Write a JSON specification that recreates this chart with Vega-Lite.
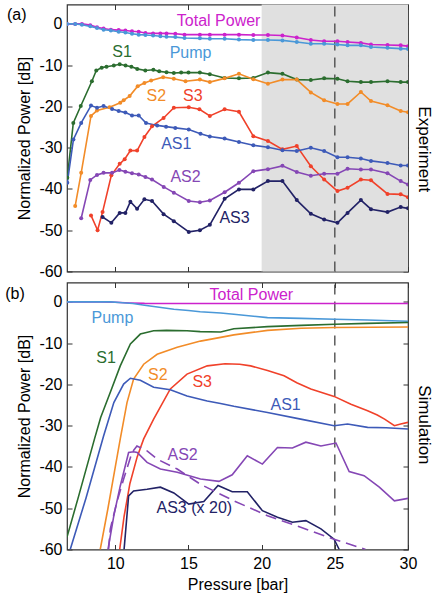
{
  "$schema": "https://vega.github.io/schema/vega-lite/v6.json",
  "padding": {"left": 4, "top": 2.5, "right": 0, "bottom": 0},
  "spacing": 0,
  "config": {
    "font": "Liberation Sans",
    "view": {"stroke": "#333333", "strokeWidth": 1.2},
    "axis": {
      "labelFont": "Liberation Sans",
      "titleFont": "Liberation Sans",
      "labelFontSize": 16,
      "titleFontSize": 16,
      "titleFontWeight": "normal",
      "labelColor": "#000000",
      "titleColor": "#000000",
      "tickSize": -5,
      "tickColor": "#333333",
      "domain": false,
      "grid": false,
      "labelPadding": 10,
      "labelFlush": false
    }
  },
  "datasets": {
    "expdata": [
      {"series": "Total Power", "x": 6.7, "y": 0}, {"series": "Total Power", "x": 7.26, "y": 0}, {"series": "Total Power", "x": 7.72, "y": 0}, {"series": "Total Power", "x": 8.29, "y": -0.3}, {"series": "Total Power", "x": 8.75, "y": -0.8}, {"series": "Total Power", "x": 9.2, "y": -1.1}, {"series": "Total Power", "x": 9.7, "y": -1.4}, {"series": "Total Power", "x": 10.23, "y": -1.5}, {"series": "Total Power", "x": 10.69, "y": -1.6}, {"series": "Total Power", "x": 11.14, "y": -1.8}, {"series": "Total Power", "x": 11.6, "y": -1.9}, {"series": "Total Power", "x": 12.06, "y": -2.2}, {"series": "Total Power", "x": 12.58, "y": -2.3}, {"series": "Total Power", "x": 13.08, "y": -2.3}, {"series": "Total Power", "x": 13.5, "y": -2.3}, {"series": "Total Power", "x": 14.1, "y": -2.4}, {"series": "Total Power", "x": 14.73, "y": -2.6}, {"series": "Total Power", "x": 15.78, "y": -2.6}, {"series": "Total Power", "x": 16.46, "y": -2.6}, {"series": "Total Power", "x": 17.47, "y": -2.6}, {"series": "Total Power", "x": 18.45, "y": -2.6}, {"series": "Total Power", "x": 19.43, "y": -2.7}, {"series": "Total Power", "x": 20.43, "y": -2.7}, {"series": "Total Power", "x": 21.42, "y": -2.8}, {"series": "Total Power", "x": 22.4, "y": -3.3}, {"series": "Total Power", "x": 23.36, "y": -3.9}, {"series": "Total Power", "x": 24.27, "y": -4.2}, {"series": "Total Power", "x": 25.18, "y": -4.2}, {"series": "Total Power", "x": 25.87, "y": -4.4}, {"series": "Total Power", "x": 26.78, "y": -4.6}, {"series": "Total Power", "x": 27.47, "y": -5.0}, {"series": "Total Power", "x": 28.6, "y": -5.1}, {"series": "Total Power", "x": 29.5, "y": -5.2}, {"series": "Total Power", "x": 30, "y": -5.4},
      {"series": "Pump", "x": 6.7, "y": 0}, {"series": "Pump", "x": 7.26, "y": 0}, {"series": "Pump", "x": 7.72, "y": -0.2}, {"series": "Pump", "x": 8.29, "y": -0.6}, {"series": "Pump", "x": 8.75, "y": -1.0}, {"series": "Pump", "x": 9.2, "y": -1.4}, {"series": "Pump", "x": 9.7, "y": -1.6}, {"series": "Pump", "x": 10.23, "y": -1.9}, {"series": "Pump", "x": 10.69, "y": -2.1}, {"series": "Pump", "x": 11.14, "y": -2.4}, {"series": "Pump", "x": 11.6, "y": -2.6}, {"series": "Pump", "x": 12.06, "y": -2.7}, {"series": "Pump", "x": 12.58, "y": -2.8}, {"series": "Pump", "x": 13.08, "y": -3.0}, {"series": "Pump", "x": 13.5, "y": -3.1}, {"series": "Pump", "x": 14.1, "y": -3.2}, {"series": "Pump", "x": 14.73, "y": -3.4}, {"series": "Pump", "x": 15.78, "y": -3.5}, {"series": "Pump", "x": 16.46, "y": -3.6}, {"series": "Pump", "x": 17.47, "y": -3.6}, {"series": "Pump", "x": 18.45, "y": -3.8}, {"series": "Pump", "x": 19.43, "y": -3.9}, {"series": "Pump", "x": 20.43, "y": -3.9}, {"series": "Pump", "x": 21.42, "y": -4.0}, {"series": "Pump", "x": 22.4, "y": -4.4}, {"series": "Pump", "x": 23.36, "y": -4.8}, {"series": "Pump", "x": 24.27, "y": -4.8}, {"series": "Pump", "x": 25.18, "y": -5.0}, {"series": "Pump", "x": 25.87, "y": -5.2}, {"series": "Pump", "x": 26.78, "y": -5.2}, {"series": "Pump", "x": 27.47, "y": -5.6}, {"series": "Pump", "x": 28.6, "y": -5.8}, {"series": "Pump", "x": 29.5, "y": -6.0}, {"series": "Pump", "x": 30, "y": -6.1},
      {"series": "S1", "x": 6.72, "y": -37.3}, {"series": "S1", "x": 7.13, "y": -24.0}, {"series": "S1", "x": 7.64, "y": -19.9}, {"series": "S1", "x": 8.4, "y": -13.9}, {"series": "S1", "x": 8.7, "y": -11.3}, {"series": "S1", "x": 9.07, "y": -10.6}, {"series": "S1", "x": 9.4, "y": -10.4}, {"series": "S1", "x": 9.9, "y": -10.1}, {"series": "S1", "x": 10.3, "y": -9.8}, {"series": "S1", "x": 10.7, "y": -10.1}, {"series": "S1", "x": 11.1, "y": -10.4}, {"series": "S1", "x": 11.5, "y": -10.9}, {"series": "S1", "x": 12.05, "y": -11.3}, {"series": "S1", "x": 12.6, "y": -11.1}, {"series": "S1", "x": 13.0, "y": -11.5}, {"series": "S1", "x": 13.5, "y": -11.7}, {"series": "S1", "x": 14.0, "y": -11.9}, {"series": "S1", "x": 14.5, "y": -11.8}, {"series": "S1", "x": 15.0, "y": -11.8}, {"series": "S1", "x": 15.78, "y": -11.8}, {"series": "S1", "x": 16.46, "y": -12.2}, {"series": "S1", "x": 17.47, "y": -13.1}, {"series": "S1", "x": 18.45, "y": -13.2}, {"series": "S1", "x": 19.43, "y": -13.1}, {"series": "S1", "x": 20.43, "y": -11.8}, {"series": "S1", "x": 21.42, "y": -12.1}, {"series": "S1", "x": 22.4, "y": -13.5}, {"series": "S1", "x": 23.36, "y": -13.6}, {"series": "S1", "x": 24.27, "y": -13.2}, {"series": "S1", "x": 25.18, "y": -13.3}, {"series": "S1", "x": 25.87, "y": -13.9}, {"series": "S1", "x": 26.78, "y": -14.1}, {"series": "S1", "x": 27.47, "y": -14.1}, {"series": "S1", "x": 28.6, "y": -13.9}, {"series": "S1", "x": 29.5, "y": -14.1}, {"series": "S1", "x": 30, "y": -14.1},
      {"series": "S2", "x": 7.26, "y": -44.1}, {"series": "S2", "x": 7.67, "y": -36.1}, {"series": "S2", "x": 8.34, "y": -22.3}, {"series": "S2", "x": 8.75, "y": -21.0}, {"series": "S2", "x": 9.61, "y": -20.2}, {"series": "S2", "x": 10.34, "y": -19.1}, {"series": "S2", "x": 10.57, "y": -18.5}, {"series": "S2", "x": 10.98, "y": -17.5}, {"series": "S2", "x": 11.53, "y": -15.1}, {"series": "S2", "x": 11.99, "y": -14.3}, {"series": "S2", "x": 12.45, "y": -13.7}, {"series": "S2", "x": 13.27, "y": -12.9}, {"series": "S2", "x": 14.0, "y": -13.3}, {"series": "S2", "x": 14.8, "y": -13.9}, {"series": "S2", "x": 15.78, "y": -13.5}, {"series": "S2", "x": 16.46, "y": -14.1}, {"series": "S2", "x": 17.47, "y": -13.2}, {"series": "S2", "x": 18.45, "y": -12.1}, {"series": "S2", "x": 19.43, "y": -13.4}, {"series": "S2", "x": 20.43, "y": -14.5}, {"series": "S2", "x": 21.42, "y": -13.5}, {"series": "S2", "x": 22.4, "y": -13.5}, {"series": "S2", "x": 23.36, "y": -16.6}, {"series": "S2", "x": 24.27, "y": -18.5}, {"series": "S2", "x": 25.18, "y": -19.4}, {"series": "S2", "x": 25.87, "y": -19.4}, {"series": "S2", "x": 26.78, "y": -16.5}, {"series": "S2", "x": 27.47, "y": -18.7}, {"series": "S2", "x": 28.6, "y": -19.7}, {"series": "S2", "x": 29.5, "y": -21.1}, {"series": "S2", "x": 30, "y": -21.4},
      {"series": "S3", "x": 8.34, "y": -46.4}, {"series": "S3", "x": 8.79, "y": -50.0}, {"series": "S3", "x": 9.13, "y": -45.6}, {"series": "S3", "x": 9.73, "y": -36.7}, {"series": "S3", "x": 10.3, "y": -33.9}, {"series": "S3", "x": 10.64, "y": -32.8}, {"series": "S3", "x": 11.03, "y": -30.7}, {"series": "S3", "x": 11.49, "y": -30.7}, {"series": "S3", "x": 11.99, "y": -27.4}, {"series": "S3", "x": 12.51, "y": -24.8}, {"series": "S3", "x": 13.3, "y": -22.8}, {"series": "S3", "x": 14.0, "y": -20.3}, {"series": "S3", "x": 15.02, "y": -20.2}, {"series": "S3", "x": 15.75, "y": -20.7}, {"series": "S3", "x": 16.46, "y": -22.3}, {"series": "S3", "x": 17.47, "y": -20.7}, {"series": "S3", "x": 18.45, "y": -21.3}, {"series": "S3", "x": 19.43, "y": -27.2}, {"series": "S3", "x": 20.43, "y": -28.4}, {"series": "S3", "x": 21.42, "y": -30.4}, {"series": "S3", "x": 22.4, "y": -29.6}, {"series": "S3", "x": 23.36, "y": -34.5}, {"series": "S3", "x": 24.27, "y": -37.7}, {"series": "S3", "x": 25.18, "y": -40.5}, {"series": "S3", "x": 25.87, "y": -39.7}, {"series": "S3", "x": 26.78, "y": -37.7}, {"series": "S3", "x": 27.47, "y": -37.9}, {"series": "S3", "x": 28.6, "y": -41.2}, {"series": "S3", "x": 29.5, "y": -41.3}, {"series": "S3", "x": 30, "y": -42.0},
      {"series": "AS1", "x": 6.72, "y": -38.5}, {"series": "AS1", "x": 7.14, "y": -28.0}, {"series": "AS1", "x": 7.67, "y": -24.0}, {"series": "AS1", "x": 8.34, "y": -19.8}, {"series": "AS1", "x": 8.75, "y": -20.3}, {"series": "AS1", "x": 9.2, "y": -19.9}, {"series": "AS1", "x": 9.78, "y": -20.6}, {"series": "AS1", "x": 10.23, "y": -21.1}, {"series": "AS1", "x": 10.69, "y": -21.5}, {"series": "AS1", "x": 11.14, "y": -22.2}, {"series": "AS1", "x": 11.6, "y": -22.2}, {"series": "AS1", "x": 12.1, "y": -24.0}, {"series": "AS1", "x": 12.86, "y": -24.6}, {"series": "AS1", "x": 13.47, "y": -24.9}, {"series": "AS1", "x": 14.1, "y": -25.2}, {"series": "AS1", "x": 15.02, "y": -25.6}, {"series": "AS1", "x": 15.82, "y": -26.6}, {"series": "AS1", "x": 16.46, "y": -27.3}, {"series": "AS1", "x": 17.47, "y": -27.8}, {"series": "AS1", "x": 18.45, "y": -28.6}, {"series": "AS1", "x": 19.43, "y": -29.4}, {"series": "AS1", "x": 20.43, "y": -29.9}, {"series": "AS1", "x": 21.42, "y": -30.6}, {"series": "AS1", "x": 22.4, "y": -30.8}, {"series": "AS1", "x": 23.36, "y": -30.0}, {"series": "AS1", "x": 24.27, "y": -30.8}, {"series": "AS1", "x": 25.18, "y": -32.3}, {"series": "AS1", "x": 25.87, "y": -32.3}, {"series": "AS1", "x": 26.78, "y": -32.6}, {"series": "AS1", "x": 27.47, "y": -33.2}, {"series": "AS1", "x": 28.6, "y": -33.7}, {"series": "AS1", "x": 29.5, "y": -34.3}, {"series": "AS1", "x": 30, "y": -34.3},
      {"series": "AS2", "x": 7.67, "y": -47.1}, {"series": "AS2", "x": 8.29, "y": -37.8}, {"series": "AS2", "x": 8.75, "y": -36.6}, {"series": "AS2", "x": 9.2, "y": -36.1}, {"series": "AS2", "x": 9.78, "y": -36.1}, {"series": "AS2", "x": 10.28, "y": -35.4}, {"series": "AS2", "x": 10.69, "y": -35.8}, {"series": "AS2", "x": 11.14, "y": -36.2}, {"series": "AS2", "x": 11.6, "y": -36.5}, {"series": "AS2", "x": 12.06, "y": -37.1}, {"series": "AS2", "x": 12.51, "y": -37.7}, {"series": "AS2", "x": 13.31, "y": -39.5}, {"series": "AS2", "x": 14.0, "y": -40.9}, {"series": "AS2", "x": 15.02, "y": -42.9}, {"series": "AS2", "x": 15.78, "y": -43.2}, {"series": "AS2", "x": 16.46, "y": -42.8}, {"series": "AS2", "x": 17.47, "y": -40.8}, {"series": "AS2", "x": 18.45, "y": -38.5}, {"series": "AS2", "x": 19.43, "y": -35.7}, {"series": "AS2", "x": 20.43, "y": -35.2}, {"series": "AS2", "x": 21.42, "y": -34.4}, {"series": "AS2", "x": 22.4, "y": -35.9}, {"series": "AS2", "x": 23.36, "y": -36.8}, {"series": "AS2", "x": 24.27, "y": -36.3}, {"series": "AS2", "x": 25.18, "y": -36.3}, {"series": "AS2", "x": 25.87, "y": -35.1}, {"series": "AS2", "x": 26.78, "y": -35.3}, {"series": "AS2", "x": 27.47, "y": -35.3}, {"series": "AS2", "x": 28.6, "y": -36.2}, {"series": "AS2", "x": 29.5, "y": -38.1}, {"series": "AS2", "x": 30, "y": -38.9},
      {"series": "AS3", "x": 9.13, "y": -46.8}, {"series": "AS3", "x": 9.73, "y": -48.2}, {"series": "AS3", "x": 10.3, "y": -45.8}, {"series": "AS3", "x": 10.69, "y": -45.8}, {"series": "AS3", "x": 11.03, "y": -43.1}, {"series": "AS3", "x": 11.49, "y": -44.8}, {"series": "AS3", "x": 11.99, "y": -42.5}, {"series": "AS3", "x": 12.51, "y": -42.9}, {"series": "AS3", "x": 13.3, "y": -46.1}, {"series": "AS3", "x": 14.0, "y": -47.8}, {"series": "AS3", "x": 15.02, "y": -50.4}, {"series": "AS3", "x": 15.78, "y": -50.0}, {"series": "AS3", "x": 16.46, "y": -48.7}, {"series": "AS3", "x": 17.47, "y": -42.4}, {"series": "AS3", "x": 18.45, "y": -40.1}, {"series": "AS3", "x": 19.43, "y": -40.1}, {"series": "AS3", "x": 20.43, "y": -38.1}, {"series": "AS3", "x": 21.42, "y": -38.1}, {"series": "AS3", "x": 22.4, "y": -42.7}, {"series": "AS3", "x": 23.36, "y": -46.0}, {"series": "AS3", "x": 24.27, "y": -47.4}, {"series": "AS3", "x": 25.18, "y": -48.2}, {"series": "AS3", "x": 25.87, "y": -45.8}, {"series": "AS3", "x": 26.78, "y": -42.7}, {"series": "AS3", "x": 27.47, "y": -44.9}, {"series": "AS3", "x": 28.6, "y": -45.6}, {"series": "AS3", "x": 29.5, "y": -44.4}, {"series": "AS3", "x": 30, "y": -44.7}
    ],
    "simdata": [
      {"series": "Total Power", "x": 6.7, "y": 0}, {"series": "Total Power", "x": 9, "y": 0}, {"series": "Total Power", "x": 10, "y": -0.1}, {"series": "Total Power", "x": 11, "y": -0.25}, {"series": "Total Power", "x": 12, "y": -0.35}, {"series": "Total Power", "x": 15, "y": -0.4}, {"series": "Total Power", "x": 20, "y": -0.4}, {"series": "Total Power", "x": 25, "y": -0.4}, {"series": "Total Power", "x": 30, "y": -0.4},
      {"series": "Pump", "x": 6.7, "y": 0}, {"series": "Pump", "x": 9.7, "y": 0}, {"series": "Pump", "x": 10.5, "y": -0.2}, {"series": "Pump", "x": 11.2, "y": -0.4}, {"series": "Pump", "x": 12, "y": -0.8}, {"series": "Pump", "x": 13, "y": -1.3}, {"series": "Pump", "x": 14, "y": -1.8}, {"series": "Pump", "x": 15, "y": -2.1}, {"series": "Pump", "x": 15.8, "y": -2.4}, {"series": "Pump", "x": 17.2, "y": -2.7}, {"series": "Pump", "x": 18.1, "y": -3.0}, {"series": "Pump", "x": 20.4, "y": -3.8}, {"series": "Pump", "x": 22.7, "y": -4.0}, {"series": "Pump", "x": 25, "y": -4.2}, {"series": "Pump", "x": 27.2, "y": -4.4}, {"series": "Pump", "x": 30, "y": -4.7},
      {"series": "S1", "x": 6.7, "y": -57}, {"series": "S1", "x": 7.5, "y": -47}, {"series": "S1", "x": 8.58, "y": -33.2}, {"series": "S1", "x": 9.0, "y": -28}, {"series": "S1", "x": 9.66, "y": -21.9}, {"series": "S1", "x": 10.34, "y": -15.5}, {"series": "S1", "x": 11.03, "y": -10.2}, {"series": "S1", "x": 11.71, "y": -7.8}, {"series": "S1", "x": 12.62, "y": -7.0}, {"series": "S1", "x": 13.5, "y": -6.9}, {"series": "S1", "x": 14.9, "y": -7.0}, {"series": "S1", "x": 15.8, "y": -7.2}, {"series": "S1", "x": 17.2, "y": -7.3}, {"series": "S1", "x": 18.1, "y": -6.5}, {"series": "S1", "x": 20.4, "y": -6.0}, {"series": "S1", "x": 22.7, "y": -5.7}, {"series": "S1", "x": 25, "y": -5.4}, {"series": "S1", "x": 27.2, "y": -5.2}, {"series": "S1", "x": 30, "y": -5.0},
      {"series": "S2", "x": 8.97, "y": -60}, {"series": "S2", "x": 9.5, "y": -50}, {"series": "S2", "x": 10.0, "y": -40}, {"series": "S2", "x": 10.34, "y": -33.2}, {"series": "S2", "x": 10.8, "y": -24.4}, {"series": "S2", "x": 11.25, "y": -18.7}, {"series": "S2", "x": 11.94, "y": -15.1}, {"series": "S2", "x": 12.86, "y": -12.7}, {"series": "S2", "x": 14.23, "y": -11.0}, {"series": "S2", "x": 15.82, "y": -9.5}, {"series": "S2", "x": 17.2, "y": -8.6}, {"series": "S2", "x": 18.1, "y": -8.0}, {"series": "S2", "x": 20.4, "y": -6.9}, {"series": "S2", "x": 22.7, "y": -6.4}, {"series": "S2", "x": 25, "y": -6.2}, {"series": "S2", "x": 30, "y": -6.1},
      {"series": "S3", "x": 10.3, "y": -60}, {"series": "S3", "x": 10.6, "y": -52}, {"series": "S3", "x": 11.0, "y": -44}, {"series": "S3", "x": 11.5, "y": -37.5}, {"series": "S3", "x": 11.94, "y": -33.2}, {"series": "S3", "x": 12.62, "y": -28.4}, {"series": "S3", "x": 13.76, "y": -21.1}, {"series": "S3", "x": 14.9, "y": -17.5}, {"series": "S3", "x": 16.28, "y": -15.5}, {"series": "S3", "x": 17.5, "y": -15.0}, {"series": "S3", "x": 18.5, "y": -15.1}, {"series": "S3", "x": 19.25, "y": -15.5}, {"series": "S3", "x": 20.4, "y": -16.6}, {"series": "S3", "x": 21.53, "y": -17.9}, {"series": "S3", "x": 22.4, "y": -19.6}, {"series": "S3", "x": 23.36, "y": -21.1}, {"series": "S3", "x": 24.95, "y": -22.9}, {"series": "S3", "x": 26.1, "y": -24.8}, {"series": "S3", "x": 27.24, "y": -26.4}, {"series": "S3", "x": 27.9, "y": -27.4}, {"series": "S3", "x": 28.4, "y": -28.4}, {"series": "S3", "x": 29.07, "y": -30.0}, {"series": "S3", "x": 29.5, "y": -29.6}, {"series": "S3", "x": 30, "y": -29.2},
      {"series": "AS1", "x": 6.92, "y": -60}, {"series": "AS1", "x": 8.0, "y": -47.5}, {"series": "AS1", "x": 9.2, "y": -32.5}, {"series": "AS1", "x": 9.9, "y": -24.4}, {"series": "AS1", "x": 10.57, "y": -19.9}, {"series": "AS1", "x": 11.03, "y": -18.5}, {"series": "AS1", "x": 11.71, "y": -19.0}, {"series": "AS1", "x": 12.62, "y": -20.7}, {"series": "AS1", "x": 13.76, "y": -21.3}, {"series": "AS1", "x": 14.9, "y": -22.8}, {"series": "AS1", "x": 16.28, "y": -24.0}, {"series": "AS1", "x": 17.19, "y": -24.6}, {"series": "AS1", "x": 18.1, "y": -25.3}, {"series": "AS1", "x": 20.4, "y": -26.8}, {"series": "AS1", "x": 22.67, "y": -28.4}, {"series": "AS1", "x": 24.95, "y": -30.0}, {"series": "AS1", "x": 25.87, "y": -29.6}, {"series": "AS1", "x": 27.24, "y": -30.4}, {"series": "AS1", "x": 28.5, "y": -30.5}, {"series": "AS1", "x": 30, "y": -30.8},
      {"series": "AS2", "x": 9.5, "y": -60}, {"series": "AS2", "x": 9.9, "y": -51.8}, {"series": "AS2", "x": 10.34, "y": -44.6}, {"series": "AS2", "x": 10.91, "y": -36.5}, {"series": "AS2", "x": 11.25, "y": -36.3}, {"series": "AS2", "x": 11.5, "y": -36.5}, {"series": "AS2", "x": 12.17, "y": -38.9}, {"series": "AS2", "x": 13.08, "y": -40.5}, {"series": "AS2", "x": 14.23, "y": -41.3}, {"series": "AS2", "x": 15.82, "y": -42.9}, {"series": "AS2", "x": 17.08, "y": -43.5}, {"series": "AS2", "x": 17.99, "y": -41.9}, {"series": "AS2", "x": 19.02, "y": -37.3}, {"series": "AS2", "x": 20.05, "y": -39.3}, {"series": "AS2", "x": 21.08, "y": -35.3}, {"series": "AS2", "x": 22.1, "y": -35.4}, {"series": "AS2", "x": 23.02, "y": -34.0}, {"series": "AS2", "x": 24.05, "y": -34.9}, {"series": "AS2", "x": 25.08, "y": -34.2}, {"series": "AS2", "x": 25.98, "y": -41.1}, {"series": "AS2", "x": 27.0, "y": -42.1}, {"series": "AS2", "x": 28.04, "y": -44.9}, {"series": "AS2", "x": 29.07, "y": -48.2}, {"series": "AS2", "x": 30, "y": -47.6},
      {"series": "AS2 fit", "x": 9.54, "y": -60}, {"series": "AS2 fit", "x": 9.66, "y": -55}, {"series": "AS2 fit", "x": 10.1, "y": -48.6}, {"series": "AS2 fit", "x": 10.57, "y": -42.9}, {"series": "AS2 fit", "x": 11.14, "y": -36.5}, {"series": "AS2 fit", "x": 11.48, "y": -34.9}, {"series": "AS2 fit", "x": 12.17, "y": -36.1}, {"series": "AS2 fit", "x": 12.86, "y": -38.1}, {"series": "AS2 fit", "x": 14.23, "y": -40.5}, {"series": "AS2 fit", "x": 15.82, "y": -44.2}, {"series": "AS2 fit", "x": 16.73, "y": -45.8}, {"series": "AS2 fit", "x": 18.1, "y": -48.2}, {"series": "AS2 fit", "x": 20.4, "y": -51.8}, {"series": "AS2 fit", "x": 22.67, "y": -54.6}, {"series": "AS2 fit", "x": 24.95, "y": -57.5}, {"series": "AS2 fit", "x": 27.1, "y": -60},
      {"series": "AS3", "x": 10.6, "y": -60}, {"series": "AS3", "x": 10.91, "y": -47.0}, {"series": "AS3", "x": 11.25, "y": -45.8}, {"series": "AS3", "x": 12.17, "y": -45.4}, {"series": "AS3", "x": 13.08, "y": -44.9}, {"series": "AS3", "x": 14.0, "y": -46.3}, {"series": "AS3", "x": 15.02, "y": -49.0}, {"series": "AS3", "x": 16.05, "y": -48.4}, {"series": "AS3", "x": 17.02, "y": -44.5}, {"series": "AS3", "x": 17.99, "y": -46.0}, {"series": "AS3", "x": 19.02, "y": -46.0}, {"series": "AS3", "x": 20.05, "y": -50.6}, {"series": "AS3", "x": 21.08, "y": -52.2}, {"series": "AS3", "x": 22.1, "y": -53.4}, {"series": "AS3", "x": 23.02, "y": -53.0}, {"series": "AS3", "x": 24.05, "y": -55.0}, {"series": "AS3", "x": 24.95, "y": -57.5}, {"series": "AS3", "x": 25.3, "y": -60}
    ],
    "labA": [
      {"series": "label", "text": "(a)", "x": 3.27, "y": 2.1, "angle": 0},
      {"series": "label", "text": "Experiment", "x": 31.1, "y": -30.4, "angle": 90},
      {"series": "Total Power", "text": "Total Power", "x": 17.06, "y": 0.65, "angle": 0},
      {"series": "Pump", "text": "Pump", "x": 15.14, "y": -7.1, "angle": 0},
      {"series": "S1", "text": "S1", "x": 10.46, "y": -6.8, "angle": 0},
      {"series": "S2", "text": "S2", "x": 12.8, "y": -17.5, "angle": 0},
      {"series": "S3", "text": "S3", "x": 15.3, "y": -17.5, "angle": 0},
      {"series": "AS1", "text": "AS1", "x": 14.17, "y": -29.2, "angle": 0},
      {"series": "AS2", "text": "AS2", "x": 14.8, "y": -37.2, "angle": 0},
      {"series": "AS3", "text": "AS3", "x": 18.15, "y": -47.1, "angle": 0}
    ],
    "labB": [
      {"series": "label", "text": "(b)", "x": 3.15, "y": 2.0, "angle": 0},
      {"series": "label", "text": "Simulation", "x": 31.1, "y": -29.8, "angle": 90},
      {"series": "Total Power", "text": "Total Power", "x": 19.3, "y": 1.55, "angle": 0},
      {"series": "Pump", "text": "Pump", "x": 9.8, "y": -3.95, "angle": 0},
      {"series": "S1", "text": "S1", "x": 9.37, "y": -13.7, "angle": 0},
      {"series": "S2", "text": "S2", "x": 12.9, "y": -17.6, "angle": 0},
      {"series": "S3", "text": "S3", "x": 15.94, "y": -19.5, "angle": 0},
      {"series": "AS1", "text": "AS1", "x": 21.64, "y": -25.0, "angle": 0},
      {"series": "AS2", "text": "AS2", "x": 14.6, "y": -37.0, "angle": 0},
      {"series": "AS3", "text": "AS3 (x 20)", "x": 15.4, "y": -50.0, "angle": 0}
    ]
  },
  "vconcat": [
    {
      "width": 341,
      "height": 267,
      "layer": [
        {
          "data": {"values": [{"x1": 20, "x2": 30, "y1": -60, "y2": 4.7}]},
          "mark": {"type": "rect", "color": "#e0e0e0"},
          "encoding": {
            "x": {"field": "x1", "type": "quantitative", "scale": {"domain": [6.7, 30], "nice": false, "zero": false},
                  "axis": {"orient": "bottom", "values": [10, 15, 20, 25, 30], "labels": false, "title": null}},
            "x2": {"field": "x2"},
            "y": {"field": "y1", "type": "quantitative", "scale": {"domain": [-60, 4.7], "nice": false, "zero": false},
                  "axis": {"orient": "left", "values": [-60, -50, -40, -30, -20, -10, 0], "title": "Normalized Power [dB]", "labelExpr": "'' + datum.value", "titlePadding": 6}},
            "y2": {"field": "y2"}
          }
        },
        {
          "data": {"values": [{"x": 25, "y1": -60, "y2": 4.7}]},
          "mark": {"type": "rule", "color": "#444444", "strokeDash": [10, 7], "strokeWidth": 1.3},
          "encoding": {
            "x": {"field": "x", "type": "quantitative", "axis": {"orient": "top", "values": [10, 15, 20, 25, 30], "labels": false, "title": null}},
            "y": {"field": "y1", "type": "quantitative", "axis": {"orient": "right", "values": [-60, -50, -40, -30, -20, -10, 0], "labels": false, "title": null}},
            "y2": {"field": "y2"}
          }
        },
        {
          "data": {"name": "expdata"},
          "mark": {"type": "line", "strokeWidth": 1.6, "clip": true},
          "encoding": {
            "x": {"field": "x", "type": "quantitative", "axis": null},
            "y": {"field": "y", "type": "quantitative", "axis": null},
            "color": {"field": "series", "type": "nominal", "legend": null,
                      "scale": {"domain": ["Total Power", "Pump", "S1", "S2", "S3", "AS1", "AS2", "AS3", "AS2 fit", "label"],
                                "range": ["#cc22cc", "#4a98d8", "#2b6d2f", "#f28c28", "#f0412a", "#3d5ab8", "#8547b5", "#222266", "#8547b5", "#000000"]}}
          }
        },
        {
          "data": {"name": "expdata"},
          "mark": {"type": "point", "filled": true, "size": 16, "opacity": 1, "clip": true},
          "encoding": {
            "x": {"field": "x", "type": "quantitative", "axis": null},
            "y": {"field": "y", "type": "quantitative", "axis": null},
            "color": {"field": "series", "type": "nominal", "legend": null}
          }
        },
        {
          "data": {"name": "labA"},
          "mark": {"type": "text", "fontSize": 16, "align": "center", "baseline": "middle"},
          "encoding": {
            "x": {"field": "x", "type": "quantitative", "axis": null},
            "y": {"field": "y", "type": "quantitative", "axis": null},
            "text": {"field": "text"},
            "angle": {"field": "angle", "type": "quantitative", "scale": null},
            "size": {"condition": {"test": "datum.angle == 90", "value": 17}, "value": 16},
            "color": {"field": "series", "type": "nominal", "legend": null}
          }
        }
      ]
    },
    {
      "width": 341,
      "height": 267,
      "layer": [
        {
          "data": {"values": [{"x": 25, "y1": -60, "y2": 4.7}]},
          "mark": {"type": "rule", "color": "#444444", "strokeDash": [10, 7], "strokeWidth": 1.3},
          "encoding": {
            "x": {"field": "x", "type": "quantitative", "scale": {"domain": [6.7, 30], "nice": false, "zero": false},
                  "axis": {"orient": "bottom", "values": [10, 15, 20, 25, 30], "title": "Pressure [bar]", "labelPadding": 11, "titlePadding": 5}},
            "y": {"field": "y1", "type": "quantitative", "scale": {"domain": [-60, 4.7], "nice": false, "zero": false},
                  "axis": {"orient": "left", "values": [-60, -50, -40, -30, -20, -10, 0], "title": "Normalized Power [dB]", "labelExpr": "'' + datum.value", "titlePadding": 6}},
            "y2": {"field": "y2"}
          }
        },
        {
          "data": {"name": "simdata"},
          "transform": [{"filter": "datum.series !== 'AS2 fit'"}],
          "mark": {"type": "line", "strokeWidth": 1.6, "clip": true},
          "encoding": {
            "x": {"field": "x", "type": "quantitative", "axis": {"orient": "top", "values": [10, 15, 20, 25, 30], "labels": false, "title": null}},
            "y": {"field": "y", "type": "quantitative", "axis": {"orient": "right", "values": [-60, -50, -40, -30, -20, -10, 0], "labels": false, "title": null}},
            "color": {"field": "series", "type": "nominal", "legend": null,
                      "scale": {"domain": ["Total Power", "Pump", "S1", "S2", "S3", "AS1", "AS2", "AS3", "AS2 fit", "label"],
                                "range": ["#cc22cc", "#4a98d8", "#2b6d2f", "#f28c28", "#f0412a", "#3d5ab8", "#8547b5", "#222266", "#8547b5", "#000000"]}}
          }
        },
        {
          "data": {"name": "simdata"},
          "transform": [{"filter": "datum.series === 'AS2 fit'"}],
          "mark": {"type": "line", "strokeWidth": 1.6, "clip": true, "strokeDash": [11, 6]},
          "encoding": {
            "x": {"field": "x", "type": "quantitative", "axis": null},
            "y": {"field": "y", "type": "quantitative", "axis": null},
            "color": {"field": "series", "type": "nominal", "legend": null}
          }
        },
        {
          "data": {"name": "labB"},
          "mark": {"type": "text", "fontSize": 16, "align": "center", "baseline": "middle"},
          "encoding": {
            "x": {"field": "x", "type": "quantitative", "axis": null},
            "y": {"field": "y", "type": "quantitative", "axis": null},
            "text": {"field": "text"},
            "angle": {"field": "angle", "type": "quantitative", "scale": null},
            "size": {"condition": {"test": "datum.angle == 90", "value": 17}, "value": 16},
            "color": {"field": "series", "type": "nominal", "legend": null}
          }
        }
      ]
    }
  ]
}
